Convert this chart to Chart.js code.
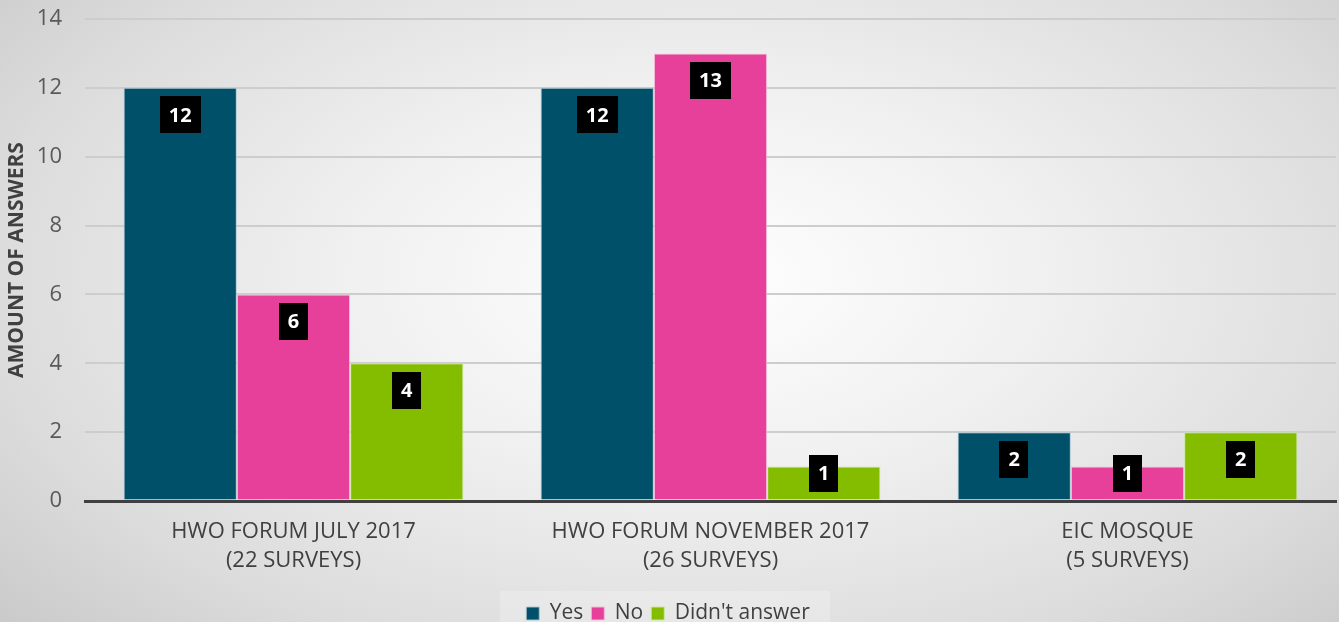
<!DOCTYPE html>
<html>
<head>
<meta charset="utf-8">
<script src="https://cdn.jsdelivr.net/npm/chart.js@4.4.1/dist/chart.umd.min.js"></script>
<style>
  html, body { margin: 0; padding: 0; overflow: hidden; }
  body {
    width: 1339px; height: 622px;
    background: radial-gradient(ellipse 75% 90% at 52% 45%, #ffffff 0%, #f0f0f0 35%, #dcdcdc 70%, #c4c4c4 100%);
  }
  #wrap { width: 1339px; height: 634px; position: relative; }
</style>
</head>
<body>
<div id="wrap"><canvas id="myChart"></canvas></div>
<script>
const categories = [
  ["HWO FORUM JULY 2017", "(22 SURVEYS)"],
  ["HWO FORUM NOVEMBER 2017", "(26 SURVEYS)"],
  ["EIC MOSQUE", "(5 SURVEYS)"]
];
const yesValues = [12, 12, 2];
const noValues = [6, 13, 1];
const noAnswerValues = [4, 1, 2];
const yTicks = [0, 2, 4, 6, 8, 10, 12, 14];

const ctx = document.querySelector("#myChart");

// black boxes with the value, near the top of each bar
const valueBoxes = {
  id: "valueBoxes",
  afterDatasetsDraw(chart) {
    const c = chart.ctx;
    c.save();
    c.font = "bold 20px 'Open Sans'";
    c.textAlign = "center";
    c.textBaseline = "middle";
    chart.data.datasets.forEach((ds, i) => {
      chart.getDatasetMeta(i).data.forEach((bar, j) => {
        const txt = String(ds.data[j]);
        const w = c.measureText(txt).width + 18;
        const h = 37;
        const cy = Math.min(bar.y + 27, bar.base - 26);
        c.fillStyle = "#000";
        c.fillRect(Math.round(bar.x - w / 2), Math.round(cy - h / 2), Math.round(w), h);
        c.fillStyle = "#fff";
        c.fillText(txt, bar.x, cy + 1);
      });
    });
    c.restore();
  }
};

// faint lighter panel behind legend
const legendPanel = {
  id: "legendPanel",
  beforeDraw(chart) {
    const c = chart.ctx;
    c.save();
    c.fillStyle = "rgba(255,255,255,0.22)";
    c.fillRect(500, 591, 330, 40);
    c.restore();
  }
};

let myChart = new Chart(ctx, {
  type: "bar",
  data: {
    labels: categories,
    datasets: [
      { label: "Yes", data: yesValues, backgroundColor: "#005069", borderColor: "rgba(170,200,210,0.9)", borderWidth: 1 },
      { label: "No", data: noValues, backgroundColor: "#e7409a", borderColor: "rgba(250,190,220,0.9)", borderWidth: 1 },
      { label: "Didn't answer", data: noAnswerValues, backgroundColor: "#84bd00", borderColor: "rgba(200,235,150,0.9)", borderWidth: 1 }
    ]
  },
  options: {
    responsive: true,
    maintainAspectRatio: false,
    animation: false,
    layout: { padding: { top: 0, right: 3, left: 0, bottom: 0 } },
    datasets: { bar: { categoryPercentage: 0.815, barPercentage: 1 } },
    plugins: {
      legend: {
        position: "bottom",
        labels: {
          color: "#404040",
          font: { family: "'Open Sans'", size: 21 },
          boxWidth: 13,
          boxHeight: 13,
          padding: 8
        }
      },
      tooltip: { enabled: false }
    },
    scales: {
      x: {
        grid: { display: false, drawTicks: false },
        border: { color: "#404040", width: 3 },
        ticks: {
          color: "#404040",
          font: { family: "'Open Sans'", size: 22, lineHeight: 1.32 },
          padding: 16,
          maxRotation: 0
        },
        afterFit(scale) { scale.height = 94; }
      },
      y: {
        min: 0,
        max: 14,
        afterBuildTicks(scale) { scale.ticks = yTicks.map(v => ({ value: v })); },
        grid: {
          color: ctx2 => ctx2.tick.value === 0 ? "#404040" : "#cdcdcd",
          lineWidth: ctx2 => ctx2.tick.value === 0 ? 3 : 2,
          drawTicks: false
        },
        border: { display: false },
        ticks: {
          color: "#595959",
          font: { family: "'Open Sans'", size: 22 },
          padding: 23
        },
        title: {
          display: true,
          text: "AMOUNT OF ANSWERS",
          color: "#404040",
          font: { family: "'Open Sans'", size: 21, weight: "bold" },
          padding: { top: 4, bottom: 0 }
        },
        afterFit(scale) {
          scale.width = 85;
          scale.paddingTop = 19;
          scale.paddingBottom = 0;
        }
      }
    }
  },
  plugins: [legendPanel, valueBoxes]
});
</script>
</body>
</html>
